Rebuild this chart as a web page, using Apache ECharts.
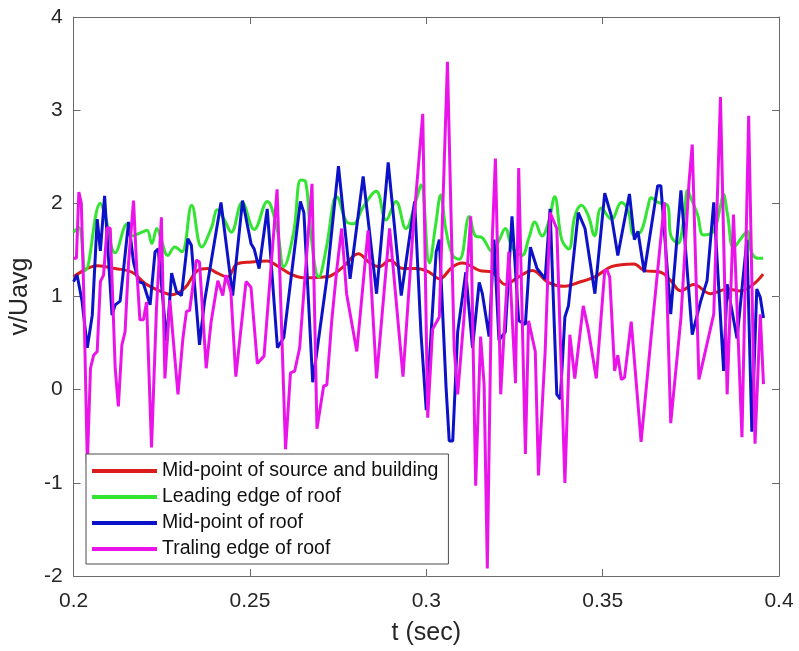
<!DOCTYPE html>
<html>
<head>
<meta charset="utf-8">
<script src="https://cdn.jsdelivr.net/npm/echarts@6/dist/echarts.min.js"></script>
<style>
  html, body { margin: 0; padding: 0; background: #fff; }
  #chart { width: 799px; height: 651px; }
</style>
</head>
<body>
<div id="chart"></div>
<script>
// Legend names
const seriesNames = [
  'Mid-point of source and building',
  'Leading edge of roof',
  'Mid-point of roof',
  'Traling edge of roof'
];

// Axis ticks
const xTicks = [0.2, 0.25, 0.3, 0.35, 0.4];
const yTicks = [-2, -1, 0, 1, 2, 3, 4];

// Mid-point of source and building
const tRed = [0.2000, 0.2068, 0.2118, 0.2166, 0.2203, 0.2250, 0.2278, 0.2315, 0.2352, 0.2380,
  0.2408, 0.2436, 0.2464, 0.2504, 0.2549, 0.2577, 0.2616, 0.2653, 0.2709, 0.2728,
  0.2765, 0.2807, 0.2840, 0.2868, 0.2896, 0.2934, 0.2971, 0.3009, 0.3037, 0.3075,
  0.3103, 0.3150, 0.3187, 0.3224, 0.3262, 0.3300, 0.3347, 0.3393, 0.3431, 0.3478,
  0.3525, 0.3589, 0.3617, 0.3665, 0.3693, 0.3722, 0.3758, 0.3806, 0.3854, 0.3890,
  0.3927, 0.3955];
const vRed = [1.21, 1.33, 1.30, 1.26, 1.14, 1.05, 1.02, 1.09, 1.28, 1.30,
  1.25, 1.21, 1.35, 1.37, 1.38, 1.33, 1.24, 1.20, 1.21, 1.22,
  1.32, 1.46, 1.36, 1.32, 1.39, 1.30, 1.30, 1.26, 1.19, 1.32,
  1.36, 1.28, 1.26, 1.13, 1.21, 1.28, 1.15, 1.11, 1.15, 1.21,
  1.32, 1.35, 1.28, 1.26, 1.17, 1.06, 1.13, 1.03, 1.08, 1.06,
  1.13, 1.24];

// Leading edge of roof
const tGreen = [0.2000, 0.2015, 0.2034, 0.2076, 0.2090, 0.2118, 0.2152, 0.2166, 0.2194, 0.2208,
  0.2222, 0.2236, 0.2250, 0.2267, 0.2287, 0.2307, 0.2335, 0.2363, 0.2391, 0.2408,
  0.2428, 0.2447, 0.2478, 0.2512, 0.2549, 0.2577, 0.2596, 0.2624, 0.2644, 0.2658,
  0.2672, 0.2695, 0.2717, 0.2737, 0.2745, 0.2774, 0.2793, 0.2821, 0.2858, 0.2886,
  0.2914, 0.2942, 0.2970, 0.2985, 0.3009, 0.3027, 0.3041, 0.3055, 0.3075, 0.3094,
  0.3122, 0.3139, 0.3159, 0.3187, 0.3207, 0.3224, 0.3243, 0.3271, 0.3291, 0.3308,
  0.3328, 0.3347, 0.3364, 0.3384, 0.3404, 0.3421, 0.3440, 0.3460, 0.3477, 0.3496,
  0.3525, 0.3553, 0.3572, 0.3589, 0.3609, 0.3629, 0.3637, 0.3657, 0.3685, 0.3693,
  0.3713, 0.3730, 0.3741, 0.3750, 0.3769, 0.3786, 0.3814, 0.3834, 0.3842, 0.3854,
  0.3871, 0.3890, 0.3910, 0.3918, 0.3927, 0.3941, 0.3955];
const vGreen = [1.69, 1.74, 1.28, 2.00, 1.86, 1.47, 1.78, 1.65, 1.69, 1.71,
  1.57, 1.73, 1.59, 1.44, 1.53, 1.48, 1.98, 1.53, 1.74, 1.93,
  1.82, 1.69, 2.01, 1.72, 2.02, 1.72, 1.32, 1.69, 2.25, 2.23,
  1.69, 1.21, 1.53, 2.02, 2.07, 1.80, 1.78, 1.96, 2.13, 1.82,
  2.02, 1.73, 2.02, 2.20, 1.36, 1.78, 2.09, 1.73, 1.44, 1.40,
  1.86, 1.65, 1.63, 1.48, 1.61, 1.73, 1.53, 1.44, 1.63, 1.80,
  1.65, 1.80, 2.07, 1.61, 1.51, 1.86, 1.98, 1.86, 1.65, 1.95,
  1.83, 2.01, 1.92, 1.66, 1.70, 1.97, 2.06, 2.01, 1.97, 1.66,
  1.57, 1.83, 2.14, 2.06, 1.88, 1.66, 1.70, 1.97, 2.10, 1.88,
  1.52, 1.61, 1.70, 1.52, 1.44, 1.41, 1.41];

// Mid-point of roof
const tBlue = [0.2000, 0.2010, 0.2024, 0.2039, 0.2053, 0.2067, 0.2076, 0.2088, 0.2095, 0.2109,
  0.2118, 0.2132, 0.2156, 0.2170, 0.2184, 0.2198, 0.2217, 0.2231, 0.2240, 0.2264,
  0.2278, 0.2292, 0.2306, 0.2324, 0.2334, 0.2357, 0.2371, 0.2418, 0.2451, 0.2479,
  0.2503, 0.2512, 0.2526, 0.2549, 0.2578, 0.2596, 0.2643, 0.2653, 0.2678, 0.2718,
  0.2751, 0.2784, 0.2821, 0.2859, 0.2892, 0.2929, 0.2967, 0.2985, 0.3000, 0.3028,
  0.3037, 0.3056, 0.3065, 0.3075, 0.3089, 0.3112, 0.3131, 0.3150, 0.3159, 0.3178,
  0.3192, 0.3206, 0.3224, 0.3243, 0.3262, 0.3281, 0.3295, 0.3314, 0.3337, 0.3351,
  0.3370, 0.3380, 0.3393, 0.3403, 0.3431, 0.3450, 0.3478, 0.3506, 0.3525, 0.3543,
  0.3576, 0.3590, 0.3600, 0.3618, 0.3656, 0.3665, 0.3693, 0.3722, 0.3754, 0.3778,
  0.3796, 0.3815, 0.3843, 0.3853, 0.3881, 0.3909, 0.3923, 0.3937, 0.3947, 0.3956];
const vBlue = [1.16, 1.23, 0.95, 0.45, 0.80, 1.83, 1.49, 2.08, 1.65, 0.80,
  0.91, 0.95, 1.80, 1.37, 1.16, 1.14, 0.91, 1.48, 1.51, 0.52,
  1.25, 1.05, 1.01, 1.62, 1.55, 0.48, 0.94, 2.01, 1.01, 2.03,
  1.57, 1.51, 1.30, 1.94, 0.45, 0.56, 2.02, 1.90, 0.08, 1.19,
  2.40, 1.19, 2.29, 1.03, 2.44, 1.01, 2.02, 0.60, -0.22, 1.48,
  1.61, 0.03, -0.55, -0.55, 0.62, 1.26, 0.45, 1.15, 1.03, 0.57,
  1.61, 0.53, 0.62, 1.86, 0.74, 0.70, 1.53, 1.30, 1.19, 1.94,
  -0.05, -0.10, 0.78, 0.90, 1.90, 1.73, 1.03, 2.11, 1.86, 1.44,
  2.10, 1.61, 1.70, 1.26, 2.19, 2.19, 0.81, 2.14, 0.59, 0.95,
  1.17, 2.01, 0.20, 1.13, 0.55, 1.61, -0.45, 1.08, 0.99, 0.77];

// Trailing edge of roof
const tPink = [0.2000, 0.2008, 0.2015, 0.2022, 0.2029, 0.2039, 0.2048, 0.2057, 0.2067, 0.2076,
  0.2085, 0.2095, 0.2104, 0.2118, 0.2127, 0.2137, 0.2146, 0.2156, 0.2170, 0.2179,
  0.2188, 0.2198, 0.2207, 0.2221, 0.2235, 0.2249, 0.2259, 0.2273, 0.2296, 0.2310,
  0.2320, 0.2329, 0.2348, 0.2357, 0.2376, 0.2390, 0.2409, 0.2423, 0.2432, 0.2446,
  0.2460, 0.2489, 0.2503, 0.2521, 0.2540, 0.2577, 0.2601, 0.2615, 0.2627, 0.2641,
  0.2676, 0.2690, 0.2709, 0.2718, 0.2732, 0.2746, 0.2760, 0.2774, 0.2803, 0.2835,
  0.2859, 0.2896, 0.2934, 0.2962, 0.2990, 0.3004, 0.3018, 0.3037, 0.3060, 0.3079,
  0.3089, 0.3107, 0.3126, 0.3140, 0.3154, 0.3164, 0.3173, 0.3187, 0.3196, 0.3211,
  0.3220, 0.3234, 0.3253, 0.3262, 0.3281, 0.3290, 0.3309, 0.3318, 0.3337, 0.3351,
  0.3370, 0.3393, 0.3407, 0.3421, 0.3445, 0.3459, 0.3482, 0.3506, 0.3513, 0.3520,
  0.3534, 0.3543, 0.3553, 0.3562, 0.3581, 0.3609, 0.3637, 0.3675, 0.3693, 0.3722,
  0.3745, 0.3754, 0.3773, 0.3797, 0.3815, 0.3834, 0.3853, 0.3871, 0.3895, 0.3914,
  0.3932, 0.3947, 0.3956];
const vPink = [1.41, 1.41, 2.12, 2.00, 1.01, -0.80, 0.23, 0.37, 0.41, 1.16,
  1.23, 1.74, 1.73, 0.23, -0.18, 0.48, 0.62, 1.37, 2.03, 1.30,
  0.75, 0.75, 0.94, -0.62, 0.87, 1.85, 0.12, 0.96, -0.05, 0.55,
  0.84, 0.85, 1.39, 1.37, 0.23, 0.73, 1.17, 1.01, 1.23, 1.05,
  0.14, 1.16, 1.10, 0.28, 0.36, 2.15, -0.64, 0.18, 0.20, 0.45,
  2.21, -0.42, 0.04, 0.05, 0.74, 1.28, 1.73, 1.03, 0.41, 1.71,
  0.12, 1.73, 0.14, 1.69, 2.96, -0.30, 0.65, 0.78, 3.52, 0.45,
  -0.05, 0.78, 1.86, -1.03, 0.57, 0.05, -1.92, 1.61, 2.48, -0.05,
  0.57, 1.48, 0.07, 2.38, -0.69, 0.74, 0.41, -0.92, 0.41, 1.90,
  1.73, -1.00, 0.59, 0.12, 0.90, 0.65, 0.12, 1.28, 1.28, 1.21,
  0.20, 0.37, 0.11, 0.13, 0.73, -0.56, 0.55, 2.01, -0.36, 0.77,
  2.23, 2.63, 0.11, 0.51, 0.81, 3.14, -0.05, 1.88, -0.51, 2.94,
  -0.58, 0.81, 0.06];

const pairs = (ts, vs) => ts.map((t, i) => [t, vs[i]]);

const FONT = "'Liberation Sans', Arial, Helvetica, sans-serif";
const TEXT = '#262626';
const FRAME = '#6a6a6a';
const colors = ['#dc1c1c', '#33e433', '#0c12c8', '#ea14ea'];

const tickFmt = v => String(+v.toFixed(2));

const baseAxis = {
  type: 'value',
  splitLine: { show: false },
  axisLine: { show: true, onZero: false, lineStyle: { color: FRAME, width: 1 } },
  axisTick: { show: true, inside: true, length: 7, lineStyle: { color: FRAME, width: 1 } }
};

const chart = echarts.init(document.getElementById('chart'), null, { renderer: 'canvas' });

chart.setOption({
  animation: false,
  backgroundColor: '#ffffff',
  textStyle: { fontFamily: FONT },
  grid: { left: 68, top: 17, right: 20, bottom: 72, containLabel: false },
  xAxis: [
    Object.assign({}, baseAxis, {
      position: 'bottom',
      min: xTicks[0], max: xTicks[xTicks.length - 1], interval: 0.05,
      name: 't (sec)', nameLocation: 'middle', nameGap: 45,
      nameTextStyle: { fontSize: 25, color: TEXT, fontFamily: FONT },
      axisLabel: { fontSize: 21, color: TEXT, margin: 15, fontFamily: FONT, formatter: tickFmt }
    }),
    Object.assign({}, baseAxis, {
      position: 'top',
      min: xTicks[0], max: xTicks[xTicks.length - 1], interval: 0.05,
      axisLabel: { show: false }
    })
  ],
  yAxis: [
    Object.assign({}, baseAxis, {
      position: 'left',
      min: yTicks[0], max: yTicks[yTicks.length - 1], interval: 1,
      name: 'v/Uavg', nameLocation: 'middle', nameGap: 40,
      nameTextStyle: { fontSize: 25, color: TEXT, fontFamily: FONT },
      axisLabel: { fontSize: 21, color: TEXT, margin: 11, fontFamily: FONT }
    }),
    Object.assign({}, baseAxis, {
      position: 'right',
      min: yTicks[0], max: yTicks[yTicks.length - 1], interval: 1,
      axisLabel: { show: false }
    })
  ],
  legend: {
    left: 86, top: 454,
    orient: 'vertical',
    data: seriesNames,
    icon: 'rect',
    itemWidth: 65, itemHeight: 4,
    itemGap: 6,
    padding: [7, 10, 5, 6],
    backgroundColor: '#ffffff',
    borderColor: '#4d4d4d', borderWidth: 1,
    textStyle: { fontSize: 19.5, color: '#111', fontFamily: FONT }
  },
  series: [
    { name: seriesNames[0], data: pairs(tRed, vRed), smooth: 0.4, color: colors[0] },
    { name: seriesNames[1], data: pairs(tGreen, vGreen), smooth: 0.4, color: colors[1] },
    { name: seriesNames[2], data: pairs(tBlue, vBlue), smooth: false, color: colors[2] },
    { name: seriesNames[3], data: pairs(tPink, vPink), smooth: false, color: colors[3] }
  ].map(s => Object.assign({
    type: 'line',
    xAxisIndex: 0, yAxisIndex: 0,
    symbol: 'none',
    lineStyle: { width: 3, color: s.color },
    itemStyle: { color: s.color }
  }, s))
});
</script>
</body>
</html>
